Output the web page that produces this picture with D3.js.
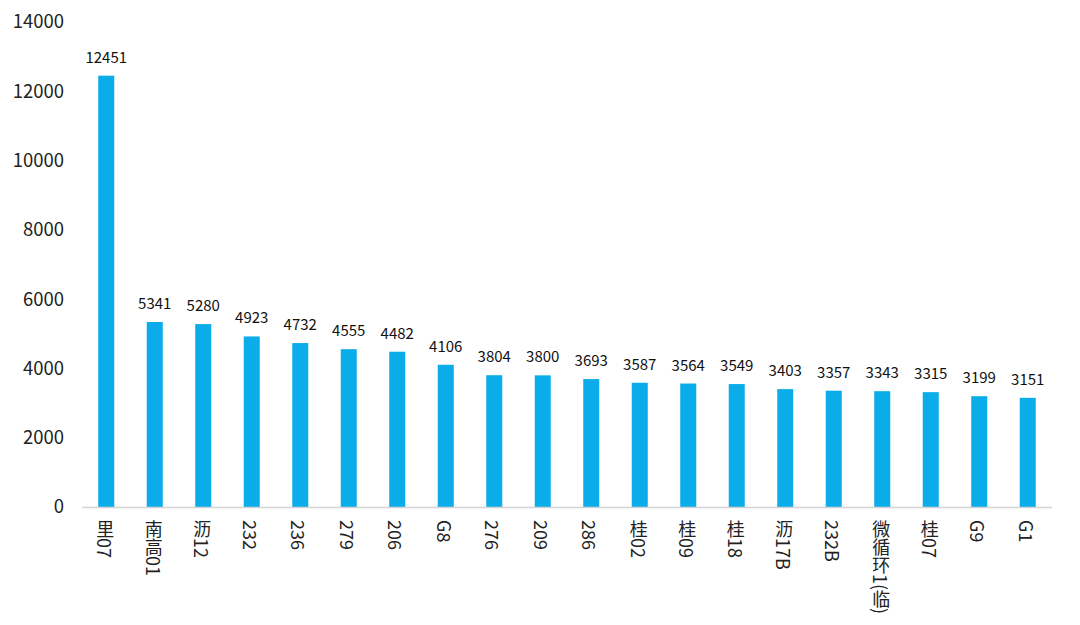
<!DOCTYPE html>
<html><head><meta charset="utf-8">
<script src="https://cdn.jsdelivr.net/npm/d3@7"></script>
<style>
body{margin:0;background:#fff;}
svg{display:block;font-family:"Noto Sans CJK SC","Noto Sans",sans-serif;}
</style></head>
<body><svg id="c" width="1080" height="625"></svg>
<script>
const categories = ["里07","南高01","沥12","232","236","279","206","G8","276","209","286","桂02","桂09","桂18","沥17B","232B","微循环1(临)","桂07","G9","G1"];
const values = [12451,5341,5280,4923,4732,4555,4482,4106,3804,3800,3693,3587,3564,3549,3403,3357,3343,3315,3199,3151];
const yTicks = [0,2000,4000,6000,8000,10000,12000,14000];

const svg = d3.select("#c");
const x = d3.scaleBand().domain(categories).range([82,1052]).paddingInner(0.67).paddingOuter(0.335);
const y = d3.scaleLinear().domain([0,14000]).range([507,22]);

// y tick labels
svg.append("g").selectAll("text").data(yTicks).join("text")
  .attr("x",64).attr("y",d=>y(d)).attr("dy","0.35em")
  .attr("text-anchor","end").attr("font-size",18.5).attr("fill","#222")
  .text(d=>d);

// bars
svg.append("g").selectAll("rect").data(values).join("rect")
  .attr("x",(d,i)=>x(categories[i])).attr("width",x.bandwidth())
  .attr("y",d=>y(d)).attr("height",d=>y(0)-y(d))
  .attr("fill","#0aace9");

// axis line
svg.append("line").attr("x1",82).attr("x2",1052).attr("y1",y(0)+0.5).attr("y2",y(0)+0.5)
  .attr("stroke","#d4d4d4").attr("stroke-width",1.3);

// value labels
svg.append("g").selectAll("text").data(values).join("text")
  .attr("x",(d,i)=>x(categories[i])+x.bandwidth()/2).attr("y",d=>y(d)-13)
  .attr("text-anchor","middle").attr("font-size",15).attr("fill","#111")
  .text(d=>d);

// x labels (vertical)
svg.append("g").selectAll("text").data(categories).join("text")
  .attr("x",d=>x(d)+x.bandwidth()/2 - 1).attr("y",520)
  .style("writing-mode","vertical-rl")
  .attr("font-size",18).attr("fill","#222")
  .text(d=>d);
</script></body></html>
